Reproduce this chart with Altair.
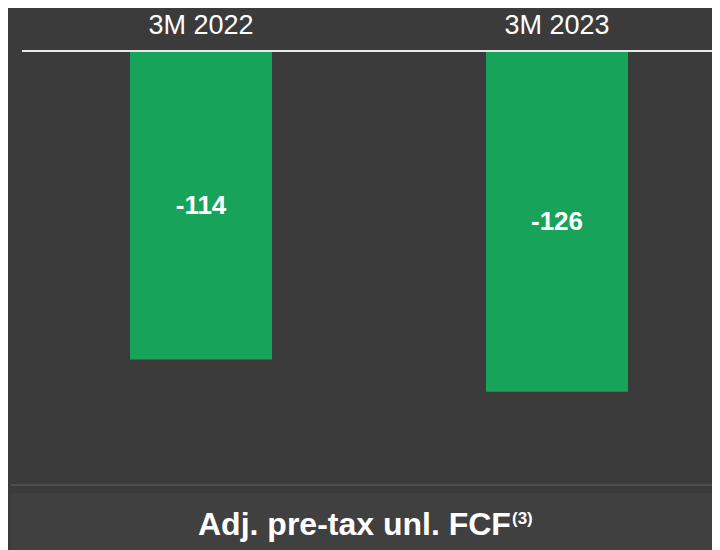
import altair as alt
import pandas as pd

categories = ["3M 2022", "3M 2023"]
values = [-114, -126]
labels = ["-114", "-126"]
title_main = "Adj. pre-tax unl. FCF"
title_sup = "(3)"

df = pd.DataFrame({"cat": categories, "val": values, "lab": labels})
df["mid"] = df["val"] / 2

FONT = "Liberation Sans"
BG = "#3b3b3b"
GREEN = "#17a35a"
W, H = 704, 542

xscale = alt.Scale(domain=categories, range=[122, 620], paddingInner=0.601, paddingOuter=0)
yscale = alt.Scale(domain=[0, -130], range=[44, 394.6])

base = alt.Chart(df)

bars = base.mark_bar(color=GREEN).encode(
    x=alt.X("cat:N", scale=xscale, axis=None),
    y=alt.Y("val:Q", scale=yscale, axis=None),
    y2=alt.datum(0),
)

value_text = base.mark_text(
    font=FONT, fontSize=26, fontWeight="bold", color="white", baseline="middle", align="center"
).encode(
    x=alt.X("cat:N", scale=xscale, axis=None),
    y=alt.Y("mid:Q", scale=yscale, axis=None),
    text="lab:N",
)

cat_text = base.mark_text(
    font=FONT, fontSize=27, color="white", baseline="alphabetic", align="center"
).encode(
    x=alt.X("cat:N", scale=xscale, axis=None),
    y=alt.value(26),
    text="cat:N",
)

one = alt.Chart(alt.Data(values=[{"a": 1}]))

top_line = one.mark_rule(color="#e8e8e8", strokeWidth=2).encode(
    x=alt.value(14), x2=alt.value(W), y=alt.value(43)
)

band = one.mark_rect(color="#404040").encode(
    x=alt.value(3), x2=alt.value(W), y=alt.value(485), y2=alt.value(H)
)

sep = one.mark_rule(color="#555555", strokeWidth=1.5).encode(
    x=alt.value(3), x2=alt.value(W), y=alt.value(477)
)

t_main = one.mark_text(
    font=FONT, fontSize=32, fontWeight="bold", color="white", align="left", baseline="alphabetic"
).encode(x=alt.value(190), y=alt.value(527), text=alt.value(title_main))

t_sup = one.mark_text(
    font=FONT, fontSize=17, fontWeight="bold", color="white", align="left", baseline="alphabetic"
).encode(x=alt.value(504), y=alt.value(516), text=alt.value(title_sup))

chart = alt.layer(band, sep, bars, top_line, value_text, cat_text, t_main, t_sup).properties(
    width=W, height=H, background=BG, padding=0,
    autosize=alt.AutoSizeParams(type="none"),
).configure_view(stroke=None)

chart.save("out.html", embed_options={"renderer": "svg", "actions": False})
